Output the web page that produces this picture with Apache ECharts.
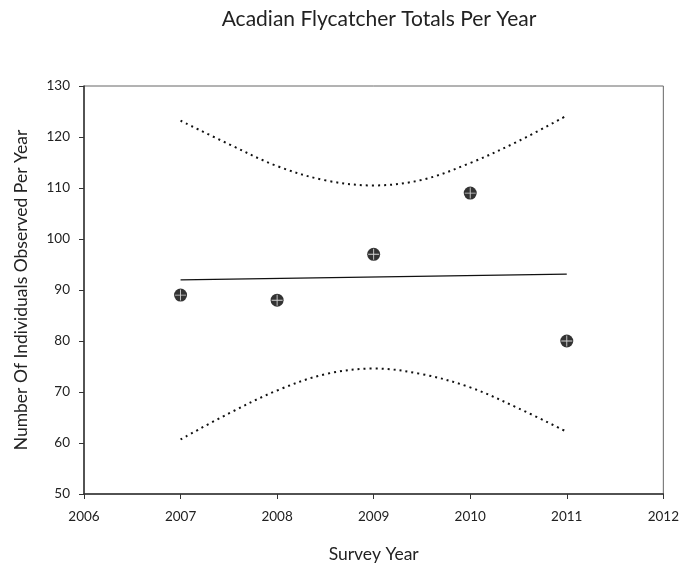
<!DOCTYPE html>
<html>
<head>
<meta charset="utf-8">
<script src="https://cdn.jsdelivr.net/npm/echarts@6/dist/echarts.min.js"></script>
<style>html,body{margin:0;padding:0;background:#fff}#c{width:682px;height:569px}</style>
</head>
<body>
<div id="c"></div>
<script>
// Observed totals
var years = [2007, 2008, 2009, 2010, 2011];
var totals = [89, 88, 97, 109, 80];
// Linear trend (endpoints)
var trendYears = [2007, 2011];
var trendValues = [92.0, 93.1];
// Confidence band curves
var bandYears = [2007, 2007.5, 2008, 2008.5, 2009, 2009.5, 2010, 2010.5, 2011];
var upperBand = [123.2, 118.6, 114.3, 111.5, 110.5, 111.6, 114.9, 119.2, 124.2];
var lowerBand = [60.7, 65.8, 70.3, 73.5, 74.6, 73.5, 70.9, 66.8, 62.2];
// Axes
var xMin = 2006, xMax = 2012, xStep = 1;
var yMin = 50, yMax = 130, yStep = 10;

function pairs(xs, ys) { return xs.map(function (x, i) { return [x, ys[i]]; }); }

var font = 'Lato, "Open Sans", sans-serif';
var chart = echarts.init(document.getElementById('c'));
chart.setOption({
  animation: false,
  backgroundColor: '#fff',
  title: {
    text: 'Acadian Flycatcher Totals Per Year',
    left: 374, top: 4, textAlign: 'center',
    textStyle: { fontFamily: font, fontSize: 21, fontWeight: 'normal', color: '#222' }
  },
  grid: { left: 84, top: 86, right: 17, bottom: 75, show: true, borderColor: '#666', borderWidth: 1 },
  xAxis: {
    type: 'value', min: xMin, max: xMax, interval: xStep,
    name: 'Survey Year', nameLocation: 'middle', nameGap: 51,
    nameTextStyle: { fontFamily: font, fontSize: 17.5, color: '#222' },
    axisLine: { lineStyle: { color: '#333', width: 1.5 } },
    axisTick: { show: true, inside: false, length: 5, lineStyle: { color: '#333' } },
    axisLabel: { fontFamily: font, fontSize: 13.5, color: '#222', margin: 16, formatter: function (v) { return String(v); } },
    splitLine: { show: false }
  },
  yAxis: {
    type: 'value', min: yMin, max: yMax, interval: yStep,
    name: 'Number Of Individuals Observed Per Year', nameLocation: 'middle', nameGap: 54,
    nameTextStyle: { fontFamily: font, fontSize: 17.5, color: '#222' },
    axisLine: { show: true, lineStyle: { color: '#333', width: 1.5 } },
    axisTick: { show: true, inside: false, length: 5, lineStyle: { color: '#333' } },
    axisLabel: { fontFamily: font, fontSize: 13.5, color: '#222', margin: 14 },
    splitLine: { show: false }
  },
  series: [
    {
      type: 'line', data: pairs(bandYears, upperBand), smooth: 0.35, symbol: 'none',
      lineStyle: { color: '#111', width: 2, type: [2, 4] }
    },
    {
      type: 'line', data: pairs(bandYears, lowerBand), smooth: 0.35, symbol: 'none',
      lineStyle: { color: '#111', width: 2, type: [2, 4] }
    },
    {
      type: 'line', data: pairs(trendYears, trendValues), symbol: 'none',
      lineStyle: { color: '#111', width: 1.3 }
    },
    {
      type: 'scatter', data: pairs(years, totals), symbol: 'circle', symbolSize: 13,
      itemStyle: { color: '#000' }, z: 5
    },
    {
      type: 'scatter', data: pairs(years, totals),
      symbol: 'path://M4.6,0 L5.4,0 L5.4,4.6 L10,4.6 L10,5.4 L5.4,5.4 L5.4,10 L4.6,10 L4.6,5.4 L0,5.4 L0,4.6 L4.6,4.6 Z',
      symbolSize: 11, itemStyle: { color: '#fff' }, z: 6
    }
  ]
});
</script>
</body>
</html>
